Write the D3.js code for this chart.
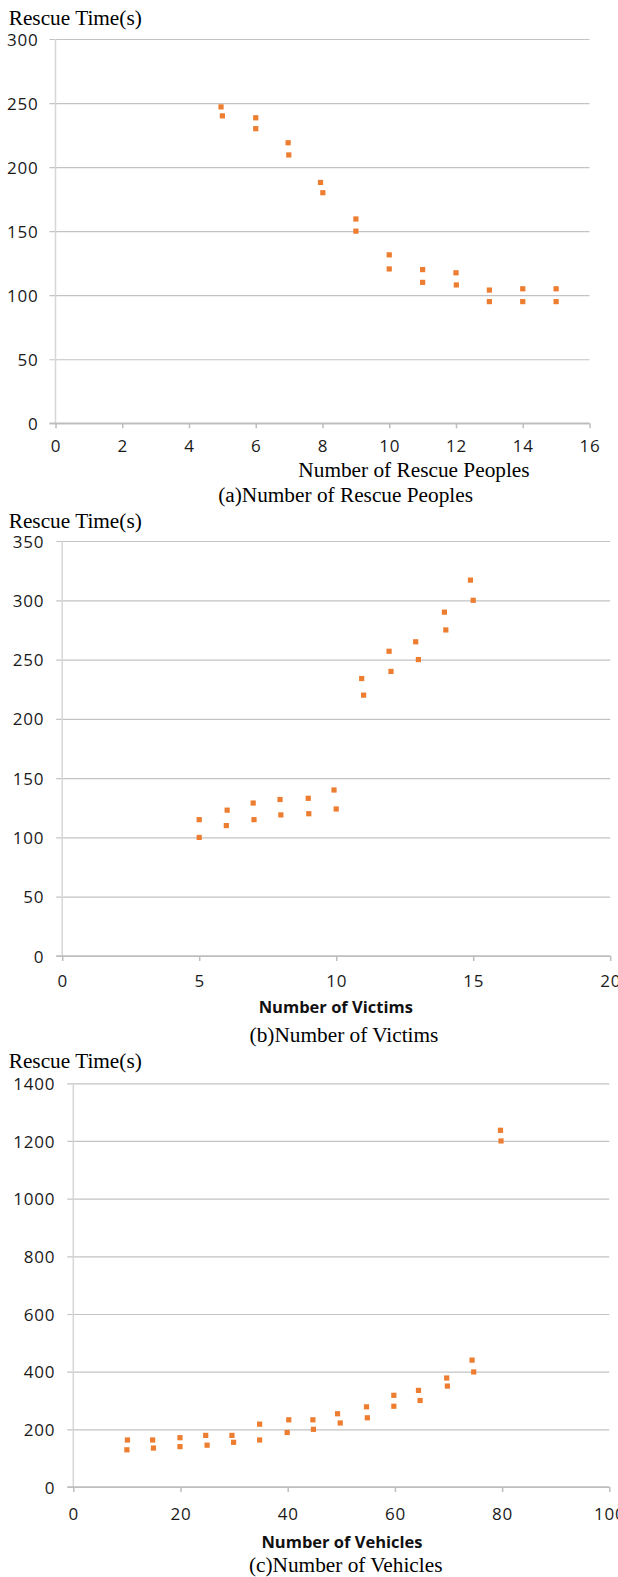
<!DOCTYPE html>
<html>
<head>
<meta charset="utf-8">
<script src="https://cdn.jsdelivr.net/npm/d3@7"></script>
<style>
  html, body { margin: 0; padding: 0; background: #fff; }
  svg { display: block; }
  .tick text { font-family: "Open Sans", sans-serif; }
</style>
</head>
<body>
<svg id="chart" width="618" height="1577"></svg>
<script>
// ---------- Data ----------
const peopleX    = [4.96, 5, 6, 6, 6.97, 6.99, 7.94, 8.01, 9, 9, 10, 10, 11, 11, 12, 12.01, 13, 13, 14, 14, 15, 15];
const peopleTime = [247, 240, 238.5, 230, 219, 209.5, 188, 180, 159.5, 150, 131.5, 120.5, 120, 110, 117.5, 108, 104, 95, 105, 95, 105, 95];

const victimsX    = [5, 5, 6.02, 5.99, 6.97, 7, 7.95, 7.98, 8.98, 9, 9.92, 10, 10.93, 11, 11.93, 12, 12.9, 13, 13.95, 14, 14.9, 15];
const victimsTime = [115, 100, 123, 110, 129, 115, 132, 119, 133, 120, 140, 124, 234, 220, 257, 240, 265, 250, 290, 275, 317, 300];

const vehiclesX    = [10.1, 10, 14.8, 14.95, 19.9, 19.9, 24.7, 24.96, 29.6, 29.9, 34.76, 34.76, 40.2, 39.9, 44.7, 44.8, 49.3, 49.8, 54.7, 54.86, 59.8, 59.8, 64.4, 64.7, 69.66, 69.8, 74.4, 74.7, 79.7, 79.8];
const vehiclesTime = [163, 129, 163, 135, 171, 140, 179, 145, 179, 155, 218, 163, 233, 189, 233, 200, 254, 222, 278, 240, 318, 280, 335, 300, 378, 350, 440, 399, 1237, 1200];

const peopleXTicks   = [0, 2, 4, 6, 8, 10, 12, 14, 16];
const peopleYTicks   = [0, 50, 100, 150, 200, 250, 300];
const victimsXTicks  = [0, 5, 10, 15, 20];
const victimsYTicks  = [0, 50, 100, 150, 200, 250, 300, 350];
const vehiclesXTicks = [0, 20, 40, 60, 80, 100];
const vehiclesYTicks = [0, 200, 400, 600, 800, 1000, 1200, 1400];

const yTitle    = "Rescue Time(s)";
const xTitles   = ["Number of Rescue Peoples", "Number of Victims", "Number of Vehicles"];
const captions  = ["(a)Number of Rescue Peoples", "(b)Number of Victims", "(c)Number of Vehicles"];

// ---------- Drawing ----------
const svg = d3.select("#chart");
const ORANGE = "#ED7D31";
const GRID = "#c3c3c3";

function panel(o) {
  const g = svg.append("g");
  const x = d3.scaleLinear().domain([0, o.xTicks[o.xTicks.length - 1]]).range([o.x0, o.x1]);
  const y = d3.scaleLinear().domain([0, o.yTicks[o.yTicks.length - 1]]).range([o.y0, o.y1]);

  // y title
  g.append("text").attr("x", 8.7).attr("y", o.titleY)
    .attr("font-family", "'Liberation Serif', 'Times New Roman', serif")
    .attr("font-size", 21.3).attr("fill", "#000").text(yTitle);

  // y grid + labels via axis
  const yAxis = d3.axisLeft(y).tickValues(o.yTicks)
    .tickSize(-(o.x1 - o.x0) - 6).tickPadding(0).tickFormat(d3.format("d"));
  const ya = g.append("g").attr("transform", `translate(${o.x0 - 6},0)`).call(yAxis);
  ya.select(".domain").remove();
  ya.selectAll(".tick line").attr("stroke", GRID).attr("stroke-width", 1.2);
  ya.selectAll(".tick text").attr("x", -(o.yLabelGap))
    .attr("font-size", 17).attr("letter-spacing", 0.8).attr("fill", "#1a1a1a").attr("dy", "0.36em");

  // y axis line (light)
  g.append("line").attr("x1", o.x0).attr("x2", o.x0).attr("y1", o.y1).attr("y2", o.y0)
    .attr("stroke", "#d6d6d6").attr("stroke-width", 1.5);

  // x axis with ticks
  const xAxis = d3.axisBottom(x).tickValues(o.xTicks).tickSize(5).tickPadding(0)
    .tickFormat(d3.format("d"));
  const xa = g.append("g").attr("transform", `translate(0,${o.y0})`).call(xAxis);
  xa.select(".domain").attr("stroke", "#bdbdbd").attr("stroke-width", 1.5)
    .attr("d", `M${o.x0 - 6},0H${o.x1}`);
  xa.selectAll(".tick line").attr("stroke", "#bdbdbd").attr("stroke-width", 1.5);
  xa.selectAll(".tick text").attr("y", o.xLabelBase - o.y0).attr("dy", 0)
    .attr("font-size", 17).attr("letter-spacing", 0.8).attr("fill", "#1a1a1a");

  // points
  g.append("g").selectAll("rect").data(o.xs.map((v, i) => [v, o.ys[i]])).join("rect")
    .attr("x", d => x(d[0]) - 2.6).attr("y", d => y(d[1]) - 2.6)
    .attr("width", 5.2).attr("height", 5.2).attr("fill", ORANGE);

  // x title
  const xt = g.append("text").attr("x", o.xTitleX).attr("y", o.xTitleY)
    .attr("text-anchor", "middle").text(o.xTitle);
  if (o.boldSans) {
    xt.attr("font-family", "'Open Sans', sans-serif").attr("font-weight", "bold")
      .attr("font-size", 16.5).attr("fill", "#111");
  } else {
    xt.attr("font-family", "'Liberation Serif', 'Times New Roman', serif")
      .attr("font-size", 21.3).attr("fill", "#000");
  }
  // caption
  g.append("text").attr("x", o.capX).attr("y", o.capY).attr("text-anchor", "middle")
    .attr("font-family", "'Liberation Serif', 'Times New Roman', serif")
    .attr("font-size", 21.3).attr("fill", "#000").text(o.caption);
}

panel({
  xs: peopleX, ys: peopleTime, xTicks: peopleXTicks, yTicks: peopleYTicks,
  x0: 55.5, x1: 589.5, y0: 423.3, y1: 39, titleY: 24.5, yLabelGap: 11,
  xLabelBase: 452.5, xTitle: xTitles[0], xTitleX: 414, xTitleY: 476.5, boldSans: false,
  caption: captions[0], capX: 345.6, capY: 501.5
});
panel({
  xs: victimsX, ys: victimsTime, xTicks: victimsXTicks, yTicks: victimsYTicks,
  x0: 62.2, x1: 610.2, y0: 956, y1: 541, titleY: 527.7, yLabelGap: 12,
  xLabelBase: 986.7, xTitle: xTitles[1], xTitleX: 335.8, xTitleY: 1013, boldSans: true,
  caption: captions[1], capX: 344, capY: 1042
});
panel({
  xs: vehiclesX, ys: vehiclesTime, xTicks: vehiclesXTicks, yTicks: vehiclesYTicks,
  x0: 73.3, x1: 609.3, y0: 1487, y1: 1083.3, titleY: 1067.7, yLabelGap: 12,
  xLabelBase: 1520, xTitle: xTitles[2], xTitleX: 342, xTitleY: 1548, boldSans: true,
  caption: captions[2], capX: 345.7, capY: 1571.7
});
</script>
</body>
</html>
